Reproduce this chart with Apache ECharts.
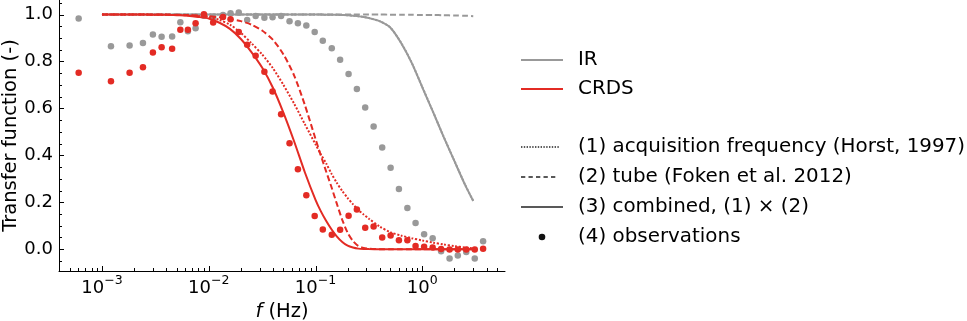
<!DOCTYPE html>
<html><head><meta charset="utf-8">
<script src="https://cdn.jsdelivr.net/npm/echarts@6/dist/echarts.min.js"></script>
<style>html,body{margin:0;padding:0;background:#fff}#c{width:967px;height:321px;background:#fff}</style>
</head><body><div id="c"></div>
<script>
const freqObs = [6.05e-4,1.214e-3,1.815e-3,2.42e-3,3.00e-3,3.62e-3,4.54e-3,5.42e-3,6.38e-3,7.53e-3,
  9.01e-3,1.10e-2,1.36e-2,1.60e-2,1.91e-2,2.29e-2,2.75e-2,3.32e-2,3.96e-2,4.76e-2,
  5.71e-2,6.84e-2,8.20e-2,9.82e-2,0.117,0.142,0.170,0.204,0.244,0.292,
  0.350,0.421,0.505,0.604,0.725,0.865,1.04,1.25,1.50,1.80,
  2.15,2.58,3.10,3.71];
const irObs = [0.983,0.865,0.868,0.879,0.915,0.905,0.906,0.967,0.929,0.942,
  0.995,0.986,0.998,1.006,1.009,0.977,0.994,0.986,0.988,0.994,
  0.971,0.963,0.953,0.926,0.888,0.856,0.807,0.747,0.683,0.604,
  0.523,0.433,0.347,0.257,0.176,0.112,0.064,0.047,-0.009,-0.040,
  -0.027,-0.012,-0.040,0.034];
const crdsObs = [0.752,0.716,0.752,0.775,0.838,0.861,0.854,0.935,0.935,0.963,
  1.001,0.966,0.990,0.980,0.926,0.871,0.824,0.756,0.672,0.575,
  0.452,0.341,0.230,0.141,0.084,0.061,0.083,0.142,0.169,0.091,
  0.097,0.050,0.058,0.038,0.038,0.014,0.010,0.007,0.001,-0.001,
  -0.001,-0.001,-0.001,0.002];

const freqModel = [0.001,0.00126,0.00158,0.002,0.00251,0.00316,0.00398,0.00501,0.00631,0.00794,
  0.01,0.0126,0.0158,0.02,0.0251,0.0316,0.0398,0.0501,0.0631,0.0794,
  0.1,0.112,0.126,0.141,0.158,0.178,0.2,0.224,0.251,0.282,
  0.316,0.398,0.501,0.631,0.794,1.0,1.26,1.58,2.0,2.51,3.0];
const irAcq = [1,1,1,1,1,1,1,1,1,1,
  1,1,1,1,1,1,1,1,1,1,
  1,1,0.999,0.999,0.999,0.998,0.997,0.995,0.993,0.99,
  0.985,0.972,0.945,0.881,0.796,0.691,0.586,0.481,0.376,0.276,0.206];
const irTube = [1,1,1,1,1,1,1,1,1,1,
  1,1,1,1,1,1,1,1,1,1,
  1,1,1,1,1,1,1,1,1,1,
  1,1,0.9995,0.999,0.999,0.998,0.998,0.997,0.996,0.995,0.993];
const irComb = [1,1,1,1,1,1,1,1,1,1,
  1,1,1,1,1,1,1,1,1,1,
  1,1,0.999,0.999,0.999,0.998,0.997,0.995,0.993,0.99,
  0.985,0.972,0.945,0.88,0.795,0.69,0.585,0.48,0.375,0.275,0.205];
const crdsAcq = [1,1,1,1,1,0.999,0.999,0.998,0.997,0.994,
  0.99,0.977,0.957,0.922,0.878,0.83,0.772,0.70,0.62,0.533,
  0.447,0.405,0.365,0.322,0.283,0.248,0.218,0.192,0.168,0.148,
  0.13,0.097,0.072,0.058,0.047,0.037,0.028,0.020,0.013,0.007,0.004];
const crdsTube = [1,1,1,1,1,1,1,0.999,0.998,0.996,
  0.993,0.988,0.981,0.972,0.957,0.932,0.893,0.83,0.74,0.615,
  0.47,0.40,0.33,0.265,0.195,0.125,0.07,0.035,0.014,0.005,
  0.002,0,0,0,0,0,0,0,0,0,0];
const crdsComb = [1,1,1,1,1,0.999,0.999,0.997,0.995,0.99,
  0.983,0.965,0.939,0.896,0.84,0.774,0.689,0.581,0.459,0.328,
  0.21,0.162,0.12,0.085,0.055,0.031,0.015,0.007,0.0024,0.0007,
  0.0003,0,0,0,0,0,0,0,0,0,0];

const xMajorTicks = [0.001,0.01,0.1,1];
const xTickExp = ['\u22123','\u22122','\u22121','0'];
const xMinorTicks = [4e-4,5e-4,6e-4,7e-4,8e-4,9e-4,
  0.002,0.003,0.004,0.005,0.006,0.007,0.008,0.009,
  0.02,0.03,0.04,0.05,0.06,0.07,0.08,0.09,
  0.2,0.3,0.4,0.5,0.6,0.7,0.8,0.9,2,3,4,5];
const yMajorTicks = [0,0.2,0.4,0.6,0.8,1.0];
const yMinorTicks = [-0.05,0.05,0.1,0.15,0.25,0.3,0.35,0.45,0.5,0.55,0.65,0.7,0.75,0.85,0.9,0.95,1.05];

const GRAY = '#999999', RED = '#e32b24';
const FONT = 'DejaVu Sans';
const X_MIN = 3.96e-4, X_MAX = 5.95, Y_MIN = -0.093, Y_MAX = 1.062;

function curve(ys, color, dash, z) {
  return {type:'line', data: freqModel.map((f,i)=>[f, ys[i]]), symbol:'none', showSymbol:false,
    smooth:0.25, silent:true, z:z, lineStyle:{color:color, width:2, type:dash}};
}
function dots(ys, color, z) {
  return {type:'scatter', data: freqObs.map((f,i)=>[f, ys[i]]), symbol:'circle', symbolSize:6.5,
    silent:true, z:z, itemStyle:{color:color, opacity:1}};
}

const chart = echarts.init(document.getElementById('c'), null, {renderer:'canvas'});
chart.setOption({
  animation:false,
  grid:{left:59, right:462, top:0, bottom:50, outerBoundsMode:'none'},
  xAxis:{
    type:'log', min:X_MIN, max:X_MAX, position:'bottom',
    name:'{i|f} (Hz)', nameLocation:'middle', nameGap:25,
    nameTextStyle:{fontSize:19.5, fontFamily:FONT, color:'#000', rich:{i:{fontStyle:'italic', fontSize:19.5, fontFamily:FONT, color:'#000'}}},
    axisLine:{show:true, onZero:false, lineStyle:{color:'#000', width:1}},
    axisTick:{show:false},
    axisLabel:{show:true, margin:3, customValues:xMajorTicks, color:'#000',
      formatter:function(v){ const k = Math.round(Math.log10(v)); return '{b|10}{s|' + xTickExp[k+3] + '}'; },
      rich:{b:{fontSize:18, fontFamily:FONT, color:'#000', padding:[5,0,0,0], verticalAlign:'bottom'},
            s:{fontSize:12.5, fontFamily:FONT, color:'#000', verticalAlign:'top'}}},
    splitLine:{show:false}, minorTick:{show:false}
  },
  yAxis:{
    type:'value', min:Y_MIN, max:Y_MAX, position:'left',
    name:'Transfer function (-)', nameLocation:'middle', nameGap:36,
    nameTextStyle:{fontSize:19.5, fontFamily:FONT, color:'#000'},
    axisLine:{show:true, onZero:false, lineStyle:{color:'#000', width:1}},
    axisTick:{show:false},
    axisLabel:{show:true, margin:6, customValues:yMajorTicks, fontSize:18, fontFamily:FONT, color:'#000',
      formatter:function(v){ return v.toFixed(1); }},
    splitLine:{show:false}
  },
  series:[
    curve(irAcq, GRAY, [2,1.7], 2),
    curve(irTube, GRAY, [6,3], 2),
    curve(irComb, GRAY, 'solid', 2),
    dots(irObs, GRAY, 3),
    curve(crdsAcq, RED, [2,1.7], 4),
    curve(crdsTube, RED, [6,3], 4),
    curve(crdsComb, RED, 'solid', 4),
    dots(crdsObs, RED, 5)
  ]
});

const legendRows = [
  {y:60, text:'IR', kind:'line', color:GRAY},
  {y:89, text:'CRDS', kind:'line', color:RED},
  {y:147, text:'(1) acquisition frequency (Horst, 1997)', kind:'dotted', color:'#222'},
  {y:177, text:'(2) tube (Foken et al. 2012)', kind:'dashed', color:'#222'},
  {y:207, text:'(3) combined, (1) \u00d7 (2)', kind:'line', color:'#222'},
  {y:237, text:'(4) observations', kind:'dot', color:'#111'}
];
const graphics = [];
legendRows.forEach(r => {
  if (r.kind === 'dot') {
    graphics.push({type:'circle', shape:{cx:542, cy:r.y, r:3.3}, style:{fill:r.color}});
  } else {
    const dash = r.kind === 'dotted' ? [1.4,1.4] : (r.kind === 'dashed' ? [4.3,3.2] : null);
    const x2 = r.kind === 'dotted' ? 560 : (r.kind === 'dashed' ? 558 : 563);
    graphics.push({type:'line', shape:{x1:521, y1:r.y, x2:x2, y2:r.y},
      style:{stroke:r.color, lineWidth: r.kind==='line' && r.color!=='#222' ? 2 : 1.6, lineDash:dash}});
  }
  graphics.push({type:'text', x:578, y:r.y, style:{text:r.text, fill:'#000', fontSize:19.9, fontFamily:FONT, verticalAlign:'middle', align:'left'}});
});

// inward axis ticks as thin filled rects, positioned through the chart's own axis scales
function addTicks(values, axis, len) {
  values.forEach(v => {
    const p = chart.convertToPixel({gridIndex:0}, axis === 'x' ? [v, Y_MIN] : [X_MIN, v]);
    if (!p || !isFinite(p[0]) || !isFinite(p[1])) return;
    if (axis === 'x') {
      graphics.push({type:'rect', shape:{x:Math.round(p[0]), y:Math.round(p[1]) - len, width:1, height:len}, style:{fill:'#000'}});
    } else {
      graphics.push({type:'rect', shape:{x:Math.round(p[0]), y:Math.round(p[1]), width:len, height:1}, style:{fill:'#000'}});
    }
  });
}
addTicks(xMajorTicks, 'x', 5);
addTicks(xMinorTicks, 'x', 3);
addTicks(yMajorTicks, 'y', 5);
addTicks(yMinorTicks, 'y', 3);
chart.setOption({graphic: graphics});
</script>
</body></html>
